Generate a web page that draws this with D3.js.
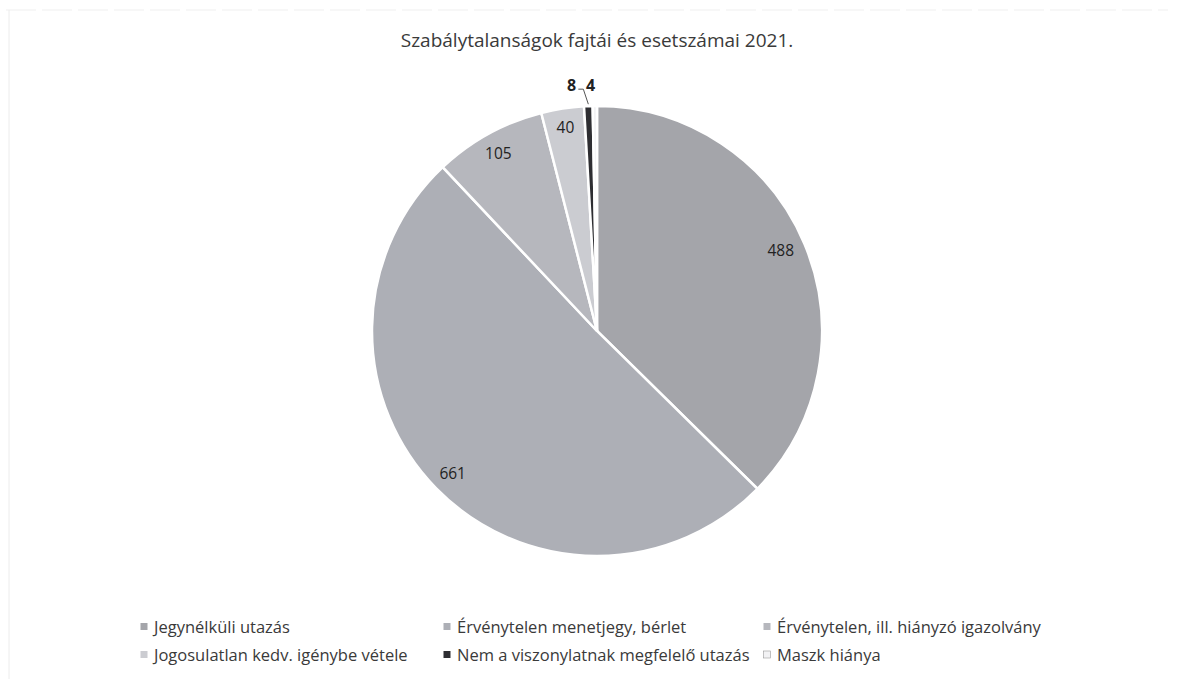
<!DOCTYPE html>
<html><head><meta charset="utf-8">
<script src="https://cdn.jsdelivr.net/npm/d3@7"></script>
<style>body{margin:0;background:#fff}svg{display:block}</style>
</head><body>
<svg id="c" width="1180" height="679"></svg>
<script>
const categories = ["Jegynélküli utazás","Érvénytelen menetjegy, bérlet","Érvénytelen, ill. hiányzó igazolvány","Jogosulatlan kedv. igénybe vétele","Nem a viszonylatnak megfelelő utazás","Maszk hiánya"];
const values = [488, 661, 105, 40, 8, 4];
const colors = ["#a4a5aa","#adafb6","#b6b7bd","#cbccd1","#2e2e32","#f2f2f4"];
const title = "Szabálytalanságok fajtái és esetszámai 2021.";

const svg = d3.select("#c");
const font = "'Open Sans', sans-serif";

// faint frame
svg.append("line").attr("x1",6).attr("x2",1168).attr("y1",10).attr("y2",10).attr("stroke","#efefef").attr("stroke-dasharray","30,6");
svg.append("line").attr("x1",9).attr("x2",9).attr("y1",10).attr("y2",679).attr("stroke","#ececec");

svg.append("text").attr("x",597).attr("y",47).attr("text-anchor","middle")
  .attr("font-family",font).attr("font-size",19).attr("fill","#3a3a3a").text(title);

const cx = 597, cy = 331, r = 225;
const pie = d3.pie().sort(null).value(d=>d)(values);
const arc = d3.arc().innerRadius(0).outerRadius(r);
const g = svg.append("g").attr("transform",`translate(${cx},${cy})`);
g.selectAll("path").data(pie).join("path")
  .attr("d",arc).attr("fill",(d,i)=>colors[i]).attr("stroke","#fff").attr("stroke-width",2.5);

// labels
const labelR = [0.9,0.91,0.91,0.915,1.1,1.1];
const labelDx = [-3,2,0,0,-16,-4];
const labelDy = [-2,-1,2,0,2,2];
pie.forEach((d,i)=>{
  const a = (d.startAngle+d.endAngle)/2;
  const x = Math.sin(a)*r*labelR[i] + labelDx[i];
  const y = -Math.cos(a)*r*labelR[i] + labelDy[i];
  const outside = labelR[i] > 1;
  g.append("text").attr("x",x).attr("y",y).attr("dy","0.35em").attr("text-anchor","middle")
    .attr("font-family",font).attr("font-size", outside?16:15.5).attr("font-weight", outside?"bold":"normal")
    .attr("fill","#222").text(values[i]);
});
// leader for the "8" label
{
  const d = pie[4];
  const a = (d.startAngle+d.endAngle)/2;
  const ex = Math.sin(a)*r, ey = -Math.cos(a)*r;
  g.append("path").attr("d",`M${ex-10},${ey-17} L${ex-5},${ey-17} L${ex},${ey-2}`)
   .attr("fill","none").attr("stroke","#555").attr("stroke-width",1);
}

// legend
const legPos = [[144,633],[447,633],[767,633],[144,661],[447,661],[767,661]];
categories.forEach((c,i)=>{
  const [x,y] = legPos[i];
  svg.append("rect").attr("x",x-3.5).attr("y",y-10).attr("width",7).attr("height",7)
    .attr("fill",colors[i]).attr("stroke", i===5?"#999":"none").attr("stroke-width",0.6);
  svg.append("text").attr("x",x+10).attr("y",y)
    .attr("font-family",font).attr("font-size",16.5).attr("fill","#3a3a3a").text(c);
});
</script>
</body></html>
